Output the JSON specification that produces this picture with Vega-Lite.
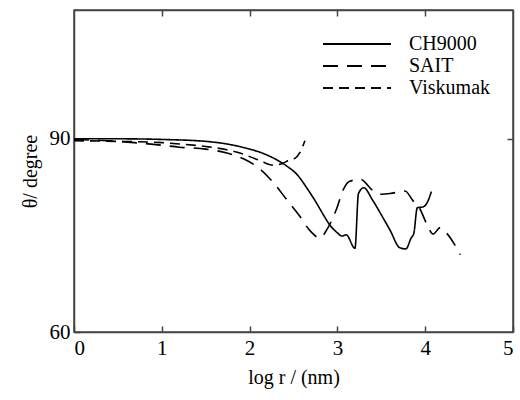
{
  "$schema": "https://vega.github.io/schema/vega-lite/v6.json",
  "width": 439,
  "height": 322,
  "autosize": "none",
  "padding": {"left": 74, "top": 10, "right": 7, "bottom": 68},
  "background": "white",
  "config": {
    "font": "Liberation Serif, Times New Roman, serif",
    "view": {"stroke": "#444", "strokeWidth": 1.5},
    "legend": {"labelFont": "Liberation Serif, Times New Roman, serif", "titleFont": "Liberation Serif, Times New Roman, serif"},
    "axis": {"labelFont": "Liberation Serif, Times New Roman, serif", "titleFont": "Liberation Serif, Times New Roman, serif", "labelFontSize": 21, "titleFontSize": 20, "labelColor": "black", "titleColor": "black", "titleFontWeight": "normal", "grid": false, "domainColor": "#444", "tickColor": "#444", "domainWidth": 1.5, "tickWidth": 1.5}
  },
  "data": {"values": [
    {"series": "CH9000", "x": 0.0, "y": 90.0},
    {"series": "CH9000", "x": 0.5, "y": 90.0},
    {"series": "CH9000", "x": 1.0, "y": 89.9},
    {"series": "CH9000", "x": 1.5, "y": 89.6},
    {"series": "CH9000", "x": 1.74, "y": 89.2},
    {"series": "CH9000", "x": 2.0, "y": 88.4},
    {"series": "CH9000", "x": 2.12, "y": 87.9},
    {"series": "CH9000", "x": 2.3, "y": 86.8},
    {"series": "CH9000", "x": 2.42, "y": 85.8},
    {"series": "CH9000", "x": 2.55, "y": 84.3},
    {"series": "CH9000", "x": 2.65, "y": 82.4},
    {"series": "CH9000", "x": 2.75, "y": 80.3},
    {"series": "CH9000", "x": 2.84, "y": 78.2},
    {"series": "CH9000", "x": 2.92, "y": 76.5},
    {"series": "CH9000", "x": 3.0, "y": 75.4},
    {"series": "CH9000", "x": 3.05, "y": 74.9},
    {"series": "CH9000", "x": 3.1, "y": 75.1},
    {"series": "CH9000", "x": 3.2, "y": 73.0},
    {"series": "CH9000", "x": 3.24, "y": 81.5},
    {"series": "CH9000", "x": 3.3, "y": 82.4},
    {"series": "CH9000", "x": 3.4, "y": 80.5},
    {"series": "CH9000", "x": 3.5, "y": 78.2},
    {"series": "CH9000", "x": 3.6, "y": 75.8},
    {"series": "CH9000", "x": 3.71, "y": 73.1},
    {"series": "CH9000", "x": 3.78, "y": 72.9},
    {"series": "CH9000", "x": 3.84, "y": 74.6},
    {"series": "CH9000", "x": 3.87, "y": 75.3},
    {"series": "CH9000", "x": 3.91, "y": 79.3},
    {"series": "CH9000", "x": 3.97, "y": 79.4},
    {"series": "CH9000", "x": 4.03, "y": 80.3},
    {"series": "CH9000", "x": 4.07, "y": 81.8},
    {"series": "SAIT", "x": 0.0, "y": 89.9},
    {"series": "SAIT", "x": 0.5, "y": 89.6},
    {"series": "SAIT", "x": 1.0, "y": 89.0},
    {"series": "SAIT", "x": 1.2, "y": 88.7},
    {"series": "SAIT", "x": 1.5, "y": 88.4},
    {"series": "SAIT", "x": 1.74, "y": 87.8},
    {"series": "SAIT", "x": 1.93, "y": 86.9},
    {"series": "SAIT", "x": 2.12, "y": 85.3},
    {"series": "SAIT", "x": 2.27, "y": 83.2},
    {"series": "SAIT", "x": 2.42, "y": 80.6},
    {"series": "SAIT", "x": 2.57, "y": 78.0},
    {"series": "SAIT", "x": 2.69, "y": 75.7},
    {"series": "SAIT", "x": 2.8, "y": 74.6},
    {"series": "SAIT", "x": 2.88, "y": 75.9},
    {"series": "SAIT", "x": 2.99, "y": 79.1},
    {"series": "SAIT", "x": 3.07, "y": 82.2},
    {"series": "SAIT", "x": 3.14, "y": 83.4},
    {"series": "SAIT", "x": 3.26, "y": 83.7},
    {"series": "SAIT", "x": 3.41, "y": 81.9},
    {"series": "SAIT", "x": 3.5, "y": 81.4},
    {"series": "SAIT", "x": 3.6, "y": 81.5},
    {"series": "SAIT", "x": 3.77, "y": 81.9},
    {"series": "SAIT", "x": 3.86, "y": 80.4},
    {"series": "SAIT", "x": 3.94, "y": 79.1},
    {"series": "SAIT", "x": 4.02, "y": 76.7},
    {"series": "SAIT", "x": 4.09, "y": 75.2},
    {"series": "SAIT", "x": 4.17, "y": 76.2},
    {"series": "SAIT", "x": 4.24, "y": 75.4},
    {"series": "SAIT", "x": 4.4, "y": 72.0},
    {"series": "Viskumak", "x": 0.0, "y": 89.7},
    {"series": "Viskumak", "x": 0.5, "y": 89.6},
    {"series": "Viskumak", "x": 1.0, "y": 89.4},
    {"series": "Viskumak", "x": 1.2, "y": 89.2},
    {"series": "Viskumak", "x": 1.5, "y": 88.8},
    {"series": "Viskumak", "x": 1.74, "y": 88.3},
    {"series": "Viskumak", "x": 1.93, "y": 87.6},
    {"series": "Viskumak", "x": 2.12, "y": 86.6},
    {"series": "Viskumak", "x": 2.27, "y": 85.9},
    {"series": "Viskumak", "x": 2.38, "y": 86.2},
    {"series": "Viskumak", "x": 2.45, "y": 86.7},
    {"series": "Viskumak", "x": 2.52, "y": 87.0},
    {"series": "Viskumak", "x": 2.57, "y": 87.8},
    {"series": "Viskumak", "x": 2.63, "y": 89.7}
  ]},
  "layer": [
    {
      "mark": {"type": "line", "color": "black", "strokeWidth": 1.6, "interpolate": "monotone"},
      "encoding": {
        "x": {"field": "x", "type": "quantitative", "scale": {"domain": [0, 5], "nice": false, "zero": false}, "axis": {"title": "log r / (nm)", "values": [0, 1, 2, 3, 4, 5], "tickSize": -6, "labelPadding": 11, "titlePadding": 9}},
        "y": {"field": "y", "type": "quantitative", "scale": {"domain": [60, 110], "nice": false, "zero": false}, "axis": {"title": "θ/ degree", "values": [60, 90], "tickSize": -6, "labelPadding": 10, "titlePadding": 9}},
        "strokeDash": {"field": "series", "type": "nominal", "scale": {"domain": ["CH9000", "SAIT", "Viskumak"], "range": [[1, 0], [15, 9], [10, 6]]},
          "legend": {"title": null, "orient": "none", "legendX": 248, "legendY": 24, "symbolType": "stroke", "symbolSize": 4624, "symbolStrokeWidth": 1.8, "symbolStrokeColor": "black", "clipHeight": 20, "rowPadding": 2, "labelFontSize": 20, "labelFont": "Liberation Serif, Times New Roman, serif", "labelColor": "black", "labelOffset": 17}},
        "detail": {"field": "series"}
      }
    },
    {
      "mark": {"type": "line", "opacity": 0},
      "encoding": {
        "x": {"field": "x", "type": "quantitative", "axis": {"orient": "top", "title": null, "labels": false, "values": [1, 2, 3, 4], "tickSize": -6}},
        "y": {"field": "y", "type": "quantitative", "axis": {"orient": "right", "title": null, "labels": false, "values": [90], "tickSize": -6}},
        "detail": {"field": "series"}
      }
    }
  ],
  "resolve": {"axis": {"x": "independent", "y": "independent"}}
}
